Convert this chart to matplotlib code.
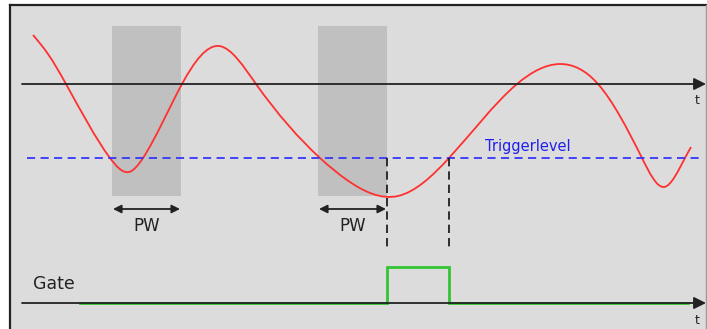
import numpy as np
import matplotlib
matplotlib.use("Agg")
import matplotlib.pyplot as plt
from matplotlib.path import Path
from matplotlib.patches import PathPatch, Rectangle

# signal key points (t, level), level grows downward
sig_t = [33, 48, 66, 110, 129, 143, 182, 219, 256, 320, 347, 398, 449, 517, 560,
         598, 642, 664, 685, 691]
sig_v = [35, 54, 84, 158, 172, 158, 84, 46, 84, 158, 180, 196, 158, 84, 64,
         84, 158, 187, 158, 147]

axis_level = 84
trigger_level = 158
gate_low = 303
gate_high = 267
gate_on = 387
gate_off = 449
pw_windows = [(112, 181), (318, 387)]

fig = plt.figure(figsize=(7.07, 3.29), dpi=100)
ax = fig.add_axes([0, 0, 1, 1])
ax.set_xlim(0, 707)
ax.set_ylim(329, 0)
ax.axis("off")

# panel
ax.add_patch(Rectangle((9.5, 5), 697, 330, facecolor="#dcdcdc", edgecolor="none"))
ax.plot([9.5, 9.5], [5, 329], color="#222222", lw=1.6)
ax.plot([9.5, 706], [5, 5], color="#222222", lw=1.6)
ax.plot([705.5, 705.5], [5, 329], color="#9a9a9a", lw=1.0)

# pulse width windows
for x0, x1 in pw_windows:
    ax.add_patch(Rectangle((x0, 26), x1 - x0, 170, facecolor="#c0c0c0", edgecolor="none"))
    ax.annotate("", xy=(x0 + 1, 209), xytext=(x1 - 1, 209),
                arrowprops=dict(arrowstyle="<|-|>", color="#222222", lw=1.3,
                                mutation_scale=12, shrinkA=0, shrinkB=0))
    ax.text((x0 + x1) / 2, 226, "PW", ha="center", va="center",
            fontsize=12, color="#222222")

# time axis
ax.annotate("", xy=(706, axis_level), xytext=(22, axis_level),
            arrowprops=dict(arrowstyle="-|>", color="#222222", lw=1.3,
                            mutation_scale=18, shrinkA=0, shrinkB=0))
ax.text(697, 101, "t", ha="center", va="center", fontsize=9, color="#222222")

# trigger level
ax.plot([27, 700], [trigger_level, trigger_level], color="#3535ff", lw=1.3,
        linestyle=(0, (4.5, 3)))
ax.text(485, 146, "Triggerlevel", ha="left", va="center", fontsize=10.5,
        color="#2020ee")

# signal: natural cubic spline slopes, drawn as bezier path
x = np.array(sig_t, float)
y = np.array(sig_v, float)
n = len(x)
h = np.diff(x)
A = np.zeros((n, n))
r = np.zeros(n)
A[0, 0] = A[-1, -1] = 1
for i in range(1, n - 1):
    A[i, i - 1] = h[i - 1]
    A[i, i] = 2 * (h[i - 1] + h[i])
    A[i, i + 1] = h[i]
    r[i] = 6 * ((y[i + 1] - y[i]) / h[i] - (y[i] - y[i - 1]) / h[i - 1])
M = np.linalg.solve(A, r)
verts = [(x[0], y[0])]
codes = [Path.MOVETO]
for i in range(n - 1):
    s = (y[i + 1] - y[i]) / h[i]
    m0 = s - h[i] * (2 * M[i] + M[i + 1]) / 6
    m1 = s + h[i] * (M[i] + 2 * M[i + 1]) / 6
    verts += [(x[i] + h[i] / 3, y[i] + m0 * h[i] / 3),
              (x[i + 1] - h[i] / 3, y[i + 1] - m1 * h[i] / 3),
              (x[i + 1], y[i + 1])]
    codes += [Path.CURVE4] * 3
ax.add_patch(PathPatch(Path(verts, codes), facecolor="none",
                       edgecolor="#ff3030", lw=1.3))

# gate markers
for gx in (gate_on, gate_off):
    ax.plot([gx, gx], [trigger_level, 250], color="#111111", lw=1.2,
            linestyle=(0, (5, 3)))

# gate trace
ax.annotate("", xy=(706, gate_low), xytext=(22, gate_low),
            arrowprops=dict(arrowstyle="-|>", color="#222222", lw=1.3,
                            mutation_scale=18, shrinkA=0, shrinkB=0))
ax.plot([80, gate_on, gate_on, gate_off, gate_off, 688],
        [gate_low, gate_low, gate_high, gate_high, gate_low, gate_low],
        color="#33c433", lw=2.0, solid_joinstyle="miter")
ax.text(33, 284, "Gate", ha="left", va="center", fontsize=12.5, color="#222222")
ax.text(697, 320, "t", ha="center", va="center", fontsize=9, color="#222222")

fig.savefig("out.png", dpi=100)
